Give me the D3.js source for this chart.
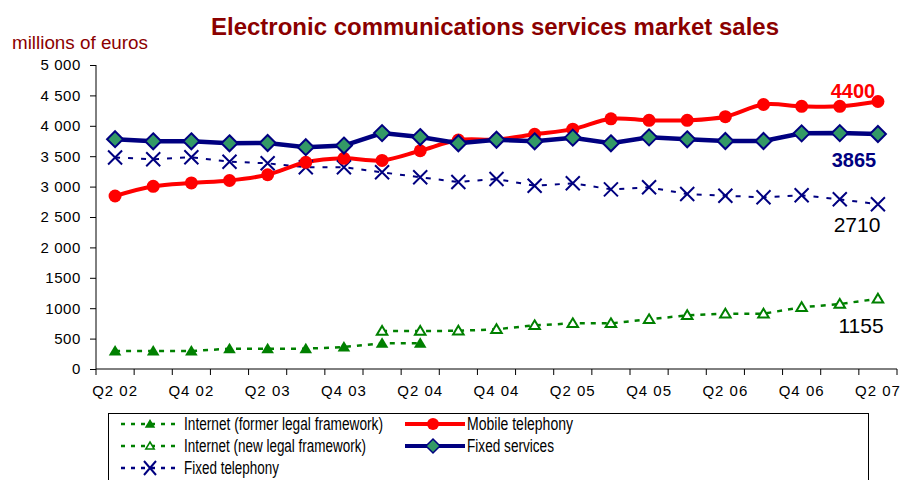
<!DOCTYPE html>
<html><head><meta charset="utf-8">
<script src="https://cdn.jsdelivr.net/npm/d3@7"></script>
<style>body{margin:0;background:#fff}svg{font-family:"Liberation Sans",Arial,sans-serif}</style>
</head><body><svg id="c" width="900" height="480"></svg>
<script>
const quarters = ["Q2 02","Q3 02","Q4 02","Q1 03","Q2 03","Q3 03","Q4 03","Q1 04","Q2 04","Q3 04","Q4 04","Q1 05","Q2 05","Q3 05","Q4 05","Q1 06","Q2 06","Q3 06","Q4 06","Q1 07","Q2 07"];
const yTicks = [0,500,1000,1500,2000,2500,3000,3500,4000,4500,5000];
const yTickLabels = ["0","500","1000","1500","2 000","2 500","3 000","3 500","4 000","4 500","5 000"];
const mobile = [2845,3005,3060,3100,3195,3400,3465,3430,3590,3765,3775,3860,3945,4115,4090,4090,4150,4350,4320,4320,4400];
const fixedServices = [3780,3745,3745,3712,3717,3648,3675,3880,3815,3712,3770,3745,3805,3712,3810,3778,3750,3750,3876,3880,3865];
const fixedTelephony = [3478,3450,3482,3410,3383,3318,3318,3235,3153,3076,3125,3015,3054,2955,2988,2878,2850,2824,2857,2791,2710];
const internetFormer = [296,296,296,334,334,334,362,422,422];
const internetNew = [null,null,null,null,null,null,null,625,625,628,653,718,751,751,817,883,910,910,1015,1069,1155];
const endLabels = ["4400","3865","2710","1155"];

const svg = d3.select("#c");
const x = d3.scaleBand().domain(quarters).range([96,897]);
const y = d3.scaleLinear().domain([0,5000]).range([369,65]);
const cx = q => x(q) + x.bandwidth()/2;

// title
svg.append("text").attr("x",495).attr("y",34.5).attr("text-anchor","middle")
  .attr("font-size",23.5).attr("font-weight","bold").attr("fill","#8B0000")
  .attr("textLength",568).attr("lengthAdjust","spacingAndGlyphs")
  .text("Electronic communications services market sales");
svg.append("text").attr("x",12).attr("y",49).attr("font-size",17.5).attr("fill","#8B0000")
  .attr("textLength",136).attr("lengthAdjust","spacingAndGlyphs")
  .text("millions of euros");

// y axis
const yAx = svg.append("g").attr("transform","translate(96,0)")
  .call(d3.axisLeft(y).tickValues(yTicks).tickSize(6).tickPadding(9).tickFormat((d,i)=>yTickLabels[i]));
yAx.selectAll("text").attr("font-size",15).attr("fill","#000").attr("letter-spacing",0.6)
  .attr("font-family","Liberation Sans, Arial");
yAx.select(".domain").attr("d","M0,65V369");

// x axis
const xAx = svg.append("g").attr("transform","translate(0,369)")
  .call(d3.axisBottom(x).tickSize(0).tickPadding(16).tickFormat((d,i)=> i%2===0 ? d : ""));
xAx.selectAll("text").attr("font-size",15).attr("fill","#000").attr("letter-spacing",1)
  .attr("font-family","Liberation Sans, Arial");
xAx.select(".domain").attr("d","M96,0H897");
xAx.selectAll(".bnd").data(quarters.concat(["end"])).enter().append("line")
  .attr("x1",(d,i)=>x.range()[0]+i*x.step()).attr("x2",(d,i)=>x.range()[0]+i*x.step())
  .attr("y1",0).attr("y2",6).attr("stroke","#000");

// lines
const lineGen = (curve) => d3.line().defined(d=>d!=null).x((d,i)=>cx(quarters[i])).y(d=>y(d)).curve(curve||d3.curveLinear);

svg.append("path").attr("d",lineGen()(internetFormer)).attr("fill","none")
  .attr("stroke","#008000").attr("stroke-width",2.5).attr("stroke-dasharray","5,6");
const newIdx = internetNew.map((v,i)=>[i,v]).filter(d=>d[1]!=null);
svg.append("path").attr("d",d3.line().x(d=>cx(quarters[d[0]])).y(d=>y(d[1]))(newIdx)).attr("fill","none")
  .attr("stroke","#008000").attr("stroke-width",2.5).attr("stroke-dasharray","5,6");
svg.append("path").attr("d",lineGen()(fixedTelephony)).attr("fill","none")
  .attr("stroke","#000080").attr("stroke-width",2).attr("stroke-dasharray","5,8");
svg.append("path").attr("d",lineGen(d3.curveCatmullRom.alpha(0))(mobile)).attr("fill","none")
  .attr("stroke","#FF0000").attr("stroke-width",4);
svg.append("path").attr("d",lineGen()(fixedServices)).attr("fill","none")
  .attr("stroke","#000080").attr("stroke-width",4.5);

// markers
const tri = (s)=> `M0,${-s}L${s*1.05},${s*0.75}L${-s*1.05},${s*0.75}Z`;
svg.selectAll(".tf").data(internetFormer).enter().append("path")
  .attr("transform",(d,i)=>`translate(${cx(quarters[i])},${y(d)})`)
  .attr("d",tri(6)).attr("fill","#008000");
svg.selectAll(".tn").data(newIdx).enter().append("path")
  .attr("transform",d=>`translate(${cx(quarters[d[0]])},${y(d[1])})`)
  .attr("d",tri(5)).attr("fill","#fff").attr("stroke","#008000").attr("stroke-width",2);
svg.selectAll(".xm").data(fixedTelephony).enter().append("path")
  .attr("transform",(d,i)=>`translate(${cx(quarters[i])},${y(d)})`)
  .attr("d","M-7,-7L7,7M-7,7L7,-7").attr("stroke","#000080").attr("stroke-width",2);
svg.selectAll(".mc").data(mobile).enter().append("circle")
  .attr("cx",(d,i)=>cx(quarters[i])).attr("cy",d=>y(d)).attr("r",6.5).attr("fill","#FF0000");
svg.selectAll(".dm").data(fixedServices).enter().append("path")
  .attr("transform",(d,i)=>`translate(${cx(quarters[i])},${y(d)})`)
  .attr("d","M0,-8L8,0L0,8L-8,0Z").attr("fill","#339966").attr("stroke","#000080").attr("stroke-width",2);

// end labels
svg.append("text").attr("x",853).attr("y",98).attr("text-anchor","middle").attr("font-size",20)
  .attr("font-weight","bold").attr("fill","#FF0000").text(endLabels[0]);
svg.append("text").attr("x",854).attr("y",167).attr("text-anchor","middle").attr("font-size",20)
  .attr("font-weight","bold").attr("fill","#000080").text(endLabels[1]);
svg.append("text").attr("x",857).attr("y",232).attr("text-anchor","middle").attr("font-size",21)
  .attr("fill","#000").text(endLabels[2]);
svg.append("text").attr("x",861).attr("y",333).attr("text-anchor","middle").attr("font-size",21)
  .attr("fill","#000").text(endLabels[3]);

// legend
const lg = svg.append("g");
lg.append("rect").attr("x",108.5).attr("y",413.5).attr("width",760).attr("height",80)
  .attr("fill","#fff").attr("stroke","#000").attr("stroke-width",1);
const legendItems = [
  {label:"Internet (former legal framework)", col:0, row:0, type:"tf", w:199},
  {label:"Internet (new legal framework)", col:0, row:1, type:"tn", w:182},
  {label:"Fixed telephony", col:0, row:2, type:"xm", w:95},
  {label:"Mobile telephony", col:1, row:0, type:"mc", w:106},
  {label:"Fixed services", col:1, row:1, type:"dm", w:87}
];
const rowY = [424,446,468];
legendItems.forEach(it=>{
  const yy = rowY[it.row];
  let tx;
  if(it.col===0){
    const col = it.type==="xm" ? "#000080" : "#008000";
    lg.append("line").attr("x1",121).attr("x2",179).attr("y1",yy).attr("y2",yy)
      .attr("stroke",col).attr("stroke-width",2.5).attr("stroke-dasharray","4,6");
    const g = lg.append("g").attr("transform",`translate(150,${yy})`);
    if(it.type==="tf") g.append("path").attr("d",tri(5)).attr("fill","#008000");
    if(it.type==="tn") g.append("path").attr("d",tri(4)).attr("fill","#fff").attr("stroke","#008000").attr("stroke-width",1.5);
    if(it.type==="xm") g.append("path").attr("d","M-6,-7L6,7M-6,7L6,-7").attr("stroke","#000080").attr("stroke-width",2);
    tx = 184;
  } else {
    const col = it.type==="mc" ? "#FF0000" : "#000080";
    lg.append("line").attr("x1",405).attr("x2",465).attr("y1",yy).attr("y2",yy)
      .attr("stroke",col).attr("stroke-width",4);
    const g = lg.append("g").attr("transform",`translate(433,${yy})`);
    if(it.type==="mc") g.append("circle").attr("r",6).attr("fill","#FF0000");
    if(it.type==="dm") g.append("path").attr("d","M0,-7L7,0L0,7L-7,0Z").attr("fill","#339966").attr("stroke","#000080").attr("stroke-width",1.5);
    tx = 467;
  }
  lg.append("text").attr("x",tx).attr("y",yy+6).attr("font-size",17.5).attr("fill","#000")
    .attr("textLength",it.w).attr("lengthAdjust","spacingAndGlyphs").text(it.label);
});
</script></body></html>
